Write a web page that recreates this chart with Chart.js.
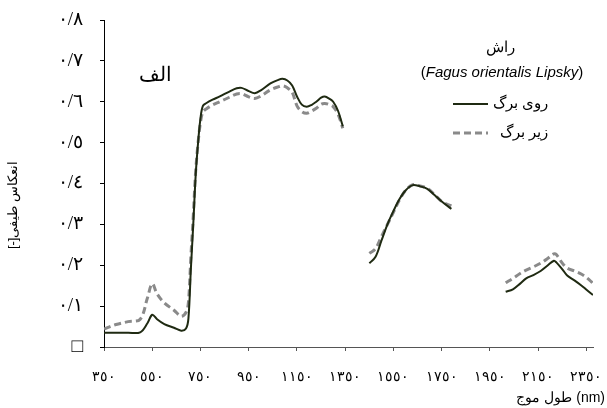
<!DOCTYPE html>
<html>
<head>
<meta charset="utf-8">
<script src="https://cdn.jsdelivr.net/npm/chart.js@4.4.1/dist/chart.umd.min.js"></script>
<style>
html,body{margin:0;padding:0;background:#fff;}
#wrap{width:607px;height:408px;position:relative;}
</style>
</head>
<body>
<div id="wrap"><canvas id="c" width="607" height="408"></canvas></div>
<script>
// ---- data ----
const wavelengths = [350,400,450,500,530,550,570,600,640,670,690,700,710,720,730,740,750,760,775,800,830,870,900,920,950,975,1000,1040,1070,1090,1110,1130,1150,1170,1190,1210,1230,1250,1265,1285,1300,1320,1340,
  1400,
  1450,1475,1500,1525,1550,1575,1600,1630,1660,1690,1720,1750,1790,
  1900,
  2015,2045,2075,2100,2130,2160,2190,2215,2225,2250,2270,2300,2330,2350,2377];
const topLeaf = [0.035,0.035,0.035,0.036,0.058,0.079,0.068,0.056,0.047,0.040,0.045,0.07,0.19,0.30,0.42,0.50,0.56,0.59,0.597,0.605,0.613,0.625,0.633,0.634,0.626,0.621,0.628,0.645,0.653,0.656,0.652,0.640,0.613,0.593,0.588,0.592,0.600,0.610,0.613,0.607,0.600,0.578,0.540,
  null,
  0.205,0.22,0.26,0.30,0.333,0.362,0.383,0.396,0.393,0.387,0.372,0.356,0.338,
  null,
  0.135,0.141,0.155,0.168,0.176,0.186,0.200,0.211,0.207,0.190,0.175,0.163,0.150,0.140,0.127];
const bottomLeaf = [0.044,0.055,0.062,0.068,0.12,0.155,0.13,0.108,0.090,0.075,0.085,0.11,0.22,0.32,0.43,0.50,0.55,0.575,0.583,0.592,0.600,0.611,0.619,0.620,0.612,0.608,0.614,0.629,0.636,0.639,0.634,0.623,0.590,0.576,0.572,0.577,0.584,0.594,0.596,0.593,0.588,0.570,0.535,
  null,
  0.229,0.24,0.27,0.30,0.33,0.36,0.383,0.397,0.394,0.388,0.373,0.356,0.345,
  null,
  0.157,0.168,0.180,0.188,0.196,0.205,0.217,0.228,0.226,0.205,0.193,0.186,0.178,0.170,0.156];
const xTickValues = [350,550,750,950,1150,1350,1550,1750,1950,2150,2350];
const xTickLabels = ['٣٥٠','٥٥٠','٧٥٠','٩٥٠','١١٥٠','١٣٥٠','١٥٥٠','١٧٥٠','١٩٥٠','٢١٥٠','٢٣٥٠'];
const yTickValues = [0,0.1,0.2,0.3,0.4,0.5,0.6,0.7,0.8];
const yTickLabels = ['□','٠/١','٠/٢','٠/٣','٠/٤','٠/٥','٠/٦','٠/٧','٠/٨'];
const seriesNames = ['روی برگ','زیر برگ'];
const panelLabel = 'الف';
const speciesName = 'راش';
const speciesLatin = 'Fagus orientalis Lipsky';
const xTitle = 'طول موج (nm)';
const yTitle = 'انعکاس طیفی[-]';

const SOLID = '#1f2a12';
const GRAY = '#8a8a8a';
const SERIF = "'Liberation Serif','Times New Roman',serif";
const SANS = "'Liberation Sans',Arial,sans-serif";

function pts(vals){ return wavelengths.map((w,i)=>({x:w,y:vals[i]})); }

const overlay = {
  id:'overlay',
  afterDraw(chart){
    const ctx = chart.ctx;
    ctx.save();
    ctx.fillStyle = '#000';
    ctx.textBaseline = 'middle';
    // panel label
    ctx.font = '20px ' + SERIF;
    ctx.textAlign = 'center';
    ctx.fillText(panelLabel, 155, 76);
    // legend header
    ctx.font = '15px ' + SERIF;
    ctx.fillText(speciesName, 500, 48);
    // latin name with upright parentheses
    ctx.textAlign = 'left';
    ctx.font = 'italic 15px ' + SANS;
    const wName = ctx.measureText(speciesLatin).width;
    ctx.font = '15px ' + SANS;
    const wP = ctx.measureText('(').width;
    const total = wName + 2*wP;
    let x0 = 502 - total/2;
    ctx.fillText('(', x0, 73);
    ctx.font = 'italic 15px ' + SANS;
    ctx.fillText(speciesLatin, x0 + wP, 73);
    ctx.font = '15px ' + SANS;
    ctx.fillText(')', x0 + wP + wName, 73);
    // legend entries
    const ds = chart.data.datasets;
    const rows = [104, 133];
    ds.forEach((d,i)=>{
      ctx.save();
      ctx.strokeStyle = d.borderColor;
      ctx.lineWidth = d.borderWidth;
      ctx.setLineDash(d.borderDash || []);
      ctx.beginPath();
      ctx.moveTo(453, rows[i]);
      ctx.lineTo(488, rows[i]);
      ctx.stroke();
      ctx.restore();
      ctx.font = '15px ' + SERIF;
      ctx.textAlign = 'right';
      ctx.fillText(seriesNames[i], 548, rows[i]);
    });
    // axis titles
    ctx.font = '14px ' + SANS;
    ctx.textAlign = 'right';
    ctx.fillText(xTitle, 605, 398);
    ctx.save();
    ctx.translate(13, 205);
    ctx.rotate(-Math.PI/2);
    ctx.direction = 'rtl';
    ctx.textAlign = 'center';
    ctx.font = '13px ' + SANS;
    ctx.fillText(yTitle, 0, 0);
    ctx.restore();
    ctx.restore();
  }
};

new Chart(document.getElementById('c'), {
  type:'line',
  data:{
    datasets:[
      {label:seriesNames[0], data:pts(topLeaf), borderColor:SOLID, borderWidth:2, pointRadius:0, tension:0.35, spanGaps:false, order:0},
      {label:seriesNames[1], data:pts(bottomLeaf), borderColor:GRAY, borderWidth:3, borderDash:[7,4], pointRadius:0, tension:0.35, spanGaps:false, order:1}
    ]
  },
  options:{
    responsive:false,
    animation:false,
    devicePixelRatio:1,
    layout:{padding:{left:0,top:20,right:14,bottom:0}},
    plugins:{legend:{display:false},tooltip:{enabled:false}},
    scales:{
      x:{
        type:'linear', min:350, max:2377,
        afterBuildTicks(s){ s.ticks = xTickValues.map(v=>({value:v})); },
        afterFit(s){ s.height = 61; s.paddingLeft = 0; s.paddingRight = 0; },
        grid:{display:true, drawOnChartArea:false, drawTicks:true, tickLength:4, color:'#555'},
        border:{display:true, color:'#555', width:1},
        ticks:{
          maxRotation:0, autoSkip:false, padding:18, color:'#000',
          font:{family:SERIF, size:14},
          callback(v){ const i = xTickValues.indexOf(v); return i>=0 ? xTickLabels[i] : ''; }
        }
      },
      y:{
        min:0, max:0.8,
        afterBuildTicks(s){ s.ticks = yTickValues.map(v=>({value:v})); },
        afterFit(s){ s.width = 104; s.paddingTop = 0; s.paddingBottom = 0; },
        grid:{display:true, drawOnChartArea:false, drawTicks:true, tickLength:4, color:'#000'},
        border:{display:true, color:'#000', width:1},
        ticks:{
          padding:17, color:'#000',
          font:{family:SERIF, size:19},
          callback(v){ const i = yTickValues.findIndex(t=>Math.abs(t-v)<1e-9); return i>=0 ? yTickLabels[i] : ''; }
        }
      }
    }
  },
  plugins:[overlay]
});
</script>
</body>
</html>
